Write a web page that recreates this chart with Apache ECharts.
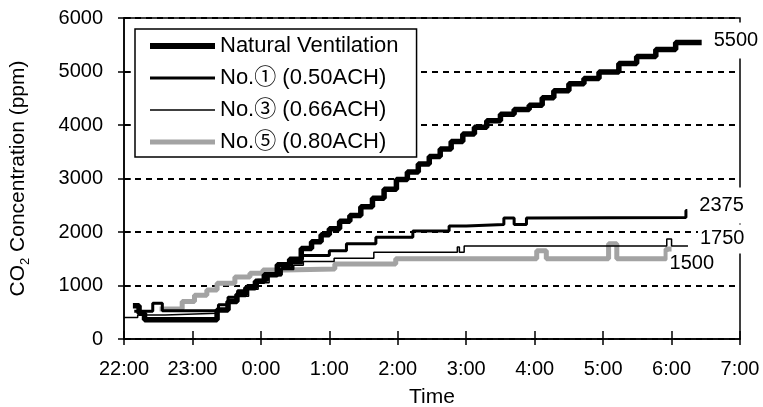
<!DOCTYPE html>
<html><head><meta charset="utf-8">
<script src="https://cdn.jsdelivr.net/npm/echarts@6/dist/echarts.min.js"></script>
<style>html,body{margin:0;padding:0;background:#fff}#c{width:763px;height:407px}</style>
</head><body><div id="c"></div>
<script>
// time axis: hours after 22:00
const tickLabels = ['22:00','23:00','0:00','1:00','2:00','3:00','4:00','5:00','6:00','7:00'];
const seriesNames = ['Natural Ventilation','No.\u2460 (0.50ACH)','No.\u2462 (0.66ACH)','No.\u2464 (0.80ACH)'];
const endLabels = ['5500','2375','1750','1500'];

const natural = [
  [0.13,620],[0.22,480],[0.3,360],[1.36,540],[1.52,700],[1.65,830],[1.78,960],[1.92,1080],
  [2.05,1200],[2.24,1390],[2.42,1490],[2.59,1690],[2.74,1820],[2.88,1950],[3.0,2060],[3.15,2200],
  [3.3,2310],[3.46,2470],[3.63,2630],[3.8,2800],[3.98,2980],[4.14,3120],[4.3,3270],[4.46,3410],
  [4.62,3550],[4.78,3690],[4.95,3830],[5.12,3960],[5.3,4080],[5.5,4200],[5.7,4290],[5.92,4370],
  [6.11,4510],[6.28,4640],[6.5,4770],[6.72,4870],[6.94,4990],[7.23,5150],[7.49,5280],[7.77,5410],
  [8.06,5540],[8.44,5540]
];
const no1 = [
  [0.15,520],[0.42,670],[0.56,530],[1.38,640],[1.52,780],[1.66,900],[1.8,1000],[1.95,1100],
  [2.1,1200],[2.3,1320],[2.45,1420],[2.6,1560],[3.0,1650],[3.25,1780],[3.68,1900],[4.22,2020],
  [4.75,2110],[5.0,2140],[5.55,2260],[5.7,2140],[5.88,2260],[5.96,2270],[8.21,2400],[8.23,2400]
];
const no3 = [
  [0,400],[0.2,450],[0.6,480],[1.36,560],[1.5,680],[1.66,800],[1.82,930],[1.96,1050],
  [2.12,1180],[2.3,1300],[2.48,1380],[2.62,1450],[3.07,1510],[3.65,1620],[4.87,1720],[4.9,1620],
  [4.97,1740],[7.93,1870],[8.0,1740],[8.24,1740]
];
const no5 = [
  [0.52,560],[0.85,700],[1.03,820],[1.21,915],[1.36,1040],[1.62,1160],[1.84,1230],[2.03,1290],
  [2.35,1310],[3.08,1400],[3.97,1500],[6.03,1650],[6.17,1500],[7.08,1780],[7.2,1500],[7.92,1680],[8.0,1680]
];

const FF = '"Liberation Sans", Arial, "Noto Sans CJK JP", sans-serif';
const colors = ['#000', '#000', '#000', '#a3a3a3'];
const widths = [5.5, 3, 1.5, 5];
const chart = echarts.init(document.getElementById('c'), null, {renderer: 'canvas'});

function endLab(i, offset, pad) {
  return {
    show: true, formatter: () => endLabels[i], fontSize: 20, fontFamily: FF, color: '#000',
    backgroundColor: '#fff', padding: pad, distance: 10, offset: offset
  };
}
function mk(i, data, z, lab) {
  return {
    name: seriesNames[i], type: 'line', step: 'end', data: data, symbol: 'none', showSymbol: false,
    color: colors[i], lineStyle: {color: colors[i], width: widths[i]}, z: z, endLabel: lab,
    emphasis: {disabled: true}, animation: false, clip: false
  };
}

const option = {
  animation: false,
  grid: {left: 124, right: 23, top: 18, bottom: 68, containLabel: false, outerBoundsMode: 'none',
    show: true, borderColor: '#000', borderWidth: 1.5, backgroundColor: 'transparent'},
  legend: {
    data: seriesNames.map((n, i) => ({name: n, lineStyle: {width: widths[i] + (i === 0 ? 0.5 : 0), color: colors[i]}})),
    orient: 'vertical', left: 135, top: 29,
    padding: [6, 18, 4, 12], itemGap: 10, itemWidth: 65, itemHeight: 14,
    backgroundColor: '#fff', borderColor: '#000', borderWidth: 1.5,
    itemStyle: {opacity: 0},
    textStyle: {fontSize: 22, fontFamily: FF, color: '#000'}, z: 10,
    selectedMode: false
  },
  xAxis: [{
    type: 'value', min: 0, max: 9, interval: 1,
    name: 'Time', nameLocation: 'middle', nameGap: 48,
    nameTextStyle: {fontSize: 21, fontFamily: FF, color: '#000'},
    axisLine: {show: true, lineStyle: {color: '#000', width: 1.5}},
    axisTick: {show: true, length: 6, lineStyle: {color: '#000', width: 1.5}},
    axisLabel: {fontSize: 20, fontFamily: FF, color: '#000', margin: 20,
      formatter: v => tickLabels[Math.round(v)]},
    splitLine: {show: false}
  }, {
    type: 'value', min: 0, max: 9, interval: 1, position: 'bottom',
    axisLine: {show: false}, axisLabel: {show: false}, splitLine: {show: false},
    axisTick: {show: true, inside: true, length: 8, lineStyle: {color: '#000', width: 1.5}}
  }],
  yAxis: [{
    type: 'value', min: 0, max: 6000, interval: 1000,
    name: '{a|CO}{s|2}{a| Concentration (ppm)}', nameLocation: 'middle', nameGap: 92, nameRotate: 90,
    nameTextStyle: {fontFamily: FF, color: '#000', rich: {
      a: {fontSize: 21, fontFamily: FF, color: '#000', lineHeight: 28, verticalAlign: 'middle'},
      s: {fontSize: 13, fontFamily: FF, color: '#000', verticalAlign: 'bottom'}
    }},
    axisLine: {show: true, lineStyle: {color: '#000', width: 1.5}},
    axisTick: {show: true, length: 6, lineStyle: {color: '#000', width: 1.5}},
    axisLabel: {fontSize: 20, fontFamily: FF, color: '#000', margin: 21, formatter: v => String(v)},
    splitLine: {show: true, lineStyle: {color: '#000', width: 2, type: [6, 5]}}
  }, {
    type: 'value', min: 0, max: 6000, interval: 1000, position: 'left',
    axisLine: {show: false}, axisLabel: {show: false}, splitLine: {show: false},
    axisTick: {show: true, inside: true, length: 7, lineStyle: {color: '#000', width: 1.5}}
  }],
  series: [
    mk(3, no5, 2, endLab(3, [-14, 14], [1, 2, 1, 2])),
    mk(2, no3, 3, endLab(2, [0, -7], [8, 2, 1, 2])),
    mk(1, no1, 4, endLab(1, [0, -5], [8, 2, 8, 2])),
    mk(0, natural, 5, endLab(0, [0, -2], [8, 2, 8, 2]))
  ]
};
chart.setOption(option);
</script>
</body></html>
